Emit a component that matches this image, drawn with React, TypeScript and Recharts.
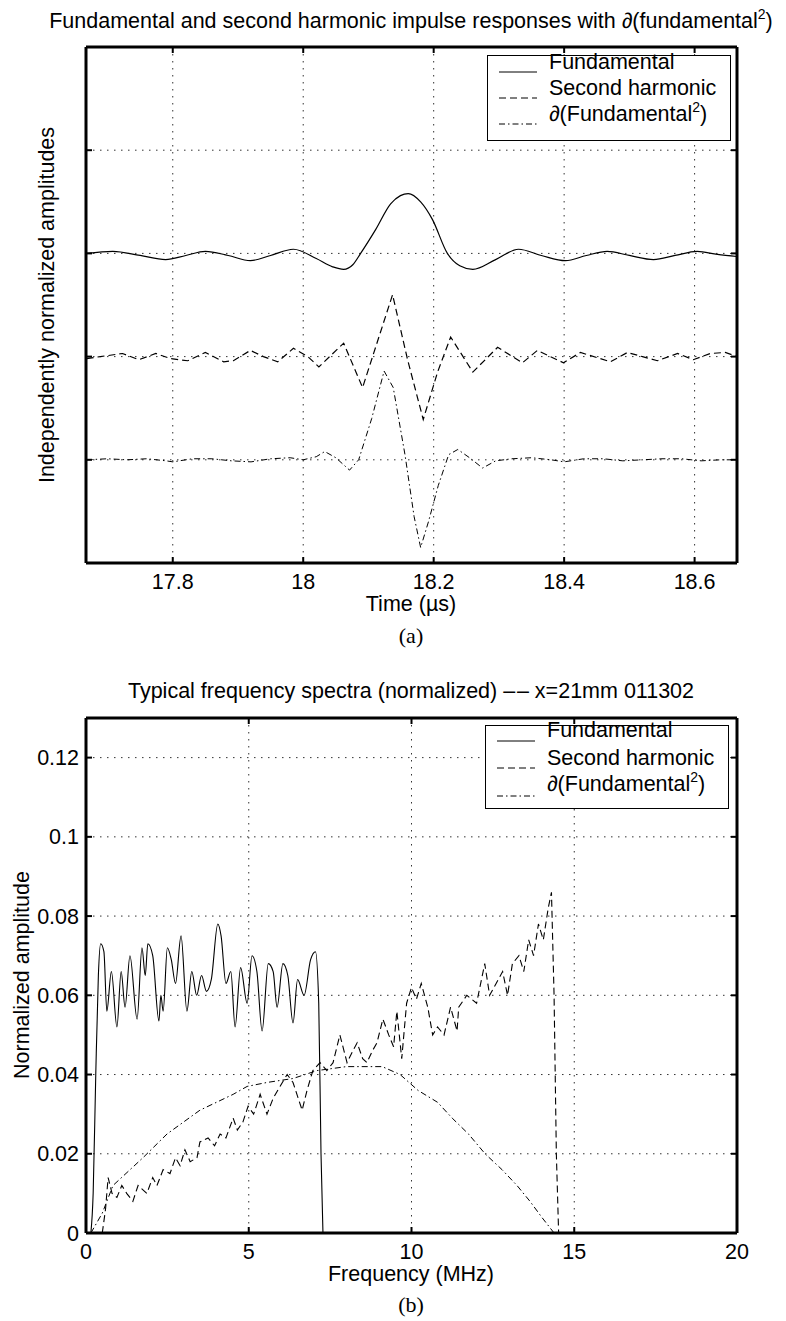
import React from 'react';
import { LineChart, Line, XAxis, YAxis, CartesianGrid } from 'recharts';

// ---- (a) impulse responses, time in microseconds ----
const timeTicks = [17.8, 18, 18.2, 18.4, 18.6];
const levelTicks = [1, 2, 3, 4];

// each trace is plotted on its own baseline level
const FUND_LEVEL = 3;
const HARM_LEVEL = 2;
const DERIV_LEVEL = 1;

const fundT = [17.668, 17.708, 17.75, 17.789, 17.82, 17.85, 17.885, 17.919, 17.95, 17.985, 18.02, 18.045, 18.062, 18.076, 18.088, 18.111, 18.134, 18.149, 18.161, 18.18, 18.198, 18.221, 18.24, 18.26, 18.295, 18.33, 18.365, 18.402, 18.434, 18.466, 18.5, 18.537, 18.57, 18.604, 18.635, 18.665];
const fundV = [0.0, 0.02, -0.02, -0.06, -0.02, 0.02, -0.02, -0.07, -0.02, 0.04, -0.05, -0.13, -0.155, -0.11, 0.0, 0.23, 0.48, 0.56, 0.58, 0.5, 0.33, 0.0, -0.12, -0.155, -0.06, 0.04, -0.02, -0.07, -0.02, 0.02, -0.02, -0.06, -0.02, 0.02, -0.01, -0.03];

const harmT = [17.668, 17.689, 17.723, 17.748, 17.774, 17.797, 17.823, 17.85, 17.878, 17.893, 17.919, 17.939, 17.961, 17.985, 18.007, 18.024, 18.062, 18.091, 18.137, 18.16, 18.184, 18.206, 18.226, 18.26, 18.298, 18.336, 18.359, 18.399, 18.425, 18.471, 18.497, 18.52, 18.543, 18.574, 18.598, 18.624, 18.647, 18.665];
const harmV = [-0.02, 0.0, 0.03, -0.03, 0.03, -0.02, -0.04, 0.04, -0.05, -0.04, 0.06, 0.0, -0.05, 0.08, 0.0, -0.1, 0.13, -0.3, 0.6, -0.03, -0.61, -0.15, 0.19, -0.15, 0.09, -0.06, 0.06, -0.06, 0.04, -0.05, 0.04, 0.0, -0.04, 0.03, -0.03, 0.03, 0.04, 0.0];

const derivT = [17.668, 17.7, 17.73, 17.76, 17.79, 17.8, 17.83, 17.86, 17.89, 17.92, 17.95, 17.98, 18.0, 18.02, 18.033, 18.05, 18.071, 18.085, 18.105, 18.124, 18.138, 18.156, 18.17, 18.18, 18.192, 18.207, 18.223, 18.237, 18.255, 18.275, 18.295, 18.32, 18.35, 18.38, 18.4, 18.43, 18.46, 18.49, 18.52, 18.55, 18.58, 18.61, 18.64, 18.665];
const derivV = [0.0, 0.01, 0.0, 0.01, -0.01, -0.02, 0.01, 0.01, -0.01, -0.02, 0.01, 0.02, 0.0, 0.03, 0.08, 0.02, -0.1, 0.0, 0.4, 0.86, 0.7, 0.05, -0.55, -0.85, -0.6, -0.25, 0.05, 0.1, 0.02, -0.08, -0.01, 0.01, 0.02, 0.0, -0.02, 0.01, 0.01, -0.01, 0.0, 0.01, 0.01, -0.01, 0.0, 0.0];

// ---- (b) spectra, frequency in MHz ----
const freqTicks = [0, 5, 10, 15, 20];
const ampTicks = [0, 0.02, 0.04, 0.06, 0.08, 0.1, 0.12];

const fundF = [0.15, 0.22, 0.3, 0.38, 0.45, 0.55, 0.64, 0.78, 0.95, 1.08, 1.2, 1.35, 1.57, 1.72, 1.82, 1.9, 2.05, 2.24, 2.3, 2.37, 2.5, 2.62, 2.75, 2.92, 3.1, 3.25, 3.4, 3.55, 3.7, 3.85, 4.05, 4.15, 4.3, 4.45, 4.58, 4.75, 4.95, 5.1, 5.25, 5.41, 5.6, 5.75, 5.87, 6.05, 6.2, 6.36, 6.5, 6.7, 6.9, 7.05, 7.15, 7.22, 7.28];
const fundA = [0, 0.01, 0.04, 0.065, 0.073, 0.071, 0.056, 0.066, 0.052, 0.066, 0.057, 0.07, 0.054, 0.072, 0.065, 0.073, 0.07, 0.0535, 0.06, 0.056, 0.072, 0.069, 0.063, 0.075, 0.056, 0.066, 0.06, 0.065, 0.061, 0.064, 0.078, 0.075, 0.063, 0.066, 0.052, 0.067, 0.058, 0.07, 0.066, 0.051, 0.068, 0.066, 0.057, 0.068, 0.065, 0.053, 0.064, 0.06, 0.069, 0.071, 0.058, 0.02, 0];

const harmF = [0.5, 0.6, 0.68, 0.8, 0.95, 1.1, 1.25, 1.44, 1.6, 1.87, 2.05, 2.18, 2.37, 2.58, 2.75, 2.89, 3.04, 3.2, 3.41, 3.5, 3.75, 3.95, 4.12, 4.3, 4.52, 4.65, 4.82, 4.98, 5.15, 5.35, 5.56, 5.75, 5.96, 6.18, 6.36, 6.64, 6.79, 6.97, 7.19, 7.4, 7.59, 7.8, 8.02, 8.2, 8.33, 8.5, 8.63, 8.8, 8.94, 9.12, 9.3, 9.45, 9.55, 9.7, 9.85, 10.0, 10.15, 10.3, 10.5, 10.65, 10.8, 11.0, 11.2, 11.4, 11.45, 11.7, 12.0, 12.1, 12.25, 12.4, 12.6, 12.8, 12.95, 13.1, 13.3, 13.45, 13.6, 13.75, 13.9, 14.05, 14.2, 14.3, 14.38, 14.45, 14.52];
const harmA = [0, 0.006, 0.014, 0.01, 0.009, 0.012, 0.01, 0.008, 0.012, 0.01, 0.014, 0.012, 0.016, 0.015, 0.019, 0.017, 0.021, 0.018, 0.019, 0.023, 0.024, 0.022, 0.025, 0.024, 0.029, 0.026, 0.028, 0.032, 0.03, 0.035, 0.03, 0.034, 0.037, 0.04, 0.038, 0.031, 0.036, 0.041, 0.043, 0.041, 0.043, 0.05, 0.043, 0.046, 0.048, 0.044, 0.043, 0.046, 0.048, 0.054, 0.05, 0.047, 0.056, 0.044, 0.058, 0.062, 0.059, 0.063, 0.057, 0.05, 0.052, 0.05, 0.057, 0.051, 0.057, 0.06, 0.058, 0.062, 0.068, 0.06, 0.063, 0.066, 0.06, 0.068, 0.07, 0.066, 0.074, 0.07, 0.078, 0.074, 0.082, 0.086, 0.06, 0.02, 0];

const derivF = [0.15, 0.5, 0.83, 1.75, 2.49, 3.5, 4.52, 4.95, 5.56, 6.36, 7.1, 8.0, 9.1, 9.65, 10.2, 10.8, 11.25, 11.75, 12.26, 12.78, 13.24, 13.64, 14.0, 14.38];
const derivA = [0, 0.005, 0.012, 0.019, 0.025, 0.031, 0.035, 0.037, 0.038, 0.039, 0.041, 0.042, 0.042, 0.04, 0.036, 0.033, 0.029, 0.025, 0.02, 0.016, 0.012, 0.008, 0.004, 0];

const FONT = '"Liberation Sans", Arial, Helvetica, sans-serif';
const SERIF = '"Liberation Serif", "Times New Roman", serif';
const FS = 21.5;

const DASHED = '7 4';
const DASHDOT = '6 3 1.5 3';
const GRID_DASH = '1.5 5.5';

const pairs = (xs: number[], ys: number[], offset = 0) => xs.map((x, i) => ({ x, y: ys[i] + offset }));

const fundData = pairs(fundT, fundV, FUND_LEVEL);
const harmData = pairs(harmT, harmV, HARM_LEVEL);
const derivData = pairs(derivT, derivV, DERIV_LEVEL);

const specFund = pairs(fundF, fundA);
const specHarm = pairs(harmF, harmA);
const specDeriv = pairs(derivF, derivA);

const axisLine = { stroke: '#000', strokeWidth: 3 };
const tickLine = { stroke: '#000', strokeWidth: 2 };
const tickText = { fontSize: FS, fill: '#000', fontFamily: FONT };
const noLabel = () => '';

// axis strip sizes; margins below are reduced by these so the plot box lands where it should
const XH = 30;
const YW = 40;
const MIRROR = 10;

function Label({ x, y, children, rotate, serif }: { x: number; y: number; children: React.ReactNode; rotate?: boolean; serif?: boolean }) {
  return (
    <div
      style={{
        position: 'absolute',
        left: x,
        top: y,
        transform: `translate(-50%, -50%)${rotate ? ' rotate(-90deg)' : ''}`,
        whiteSpace: 'nowrap',
        fontFamily: serif ? SERIF : FONT,
        fontSize: serif ? 22 : FS,
        lineHeight: 1,
        color: '#000',
      }}
    >
      {children}
    </div>
  );
}

const legendRows = [
  { name: 'Fundamental', dash: undefined as string | undefined },
  { name: 'Second harmonic', dash: DASHED },
  { name: 'deriv', dash: DASHDOT },
];

function LegendBox({ left, top, height, textY, lineY }: { left: number; top: number; height: number; textY: number[]; lineY: number[] }) {
  return (
    <div style={{ position: 'absolute', left, top, width: 244, height, border: '1px solid #000', background: '#fff', boxSizing: 'border-box', zIndex: 2 }}>
      <svg width={244} height={height} style={{ position: 'absolute', left: -1, top: -1, overflow: 'visible' }}>
        {legendRows.map((r, i) => (
          <line key={r.name} x1={12} x2={50} y1={lineY[i]} y2={lineY[i]} stroke="#000" strokeWidth={1} strokeDasharray={r.dash} />
        ))}
      </svg>
      {legendRows.map((r, i) => (
        <div key={r.name} style={{ position: 'absolute', left: 61, top: textY[i] - 1, transform: 'translateY(-50%)', fontFamily: FONT, fontSize: FS, lineHeight: 1, whiteSpace: 'nowrap' }}>
          {i === 2 ? (
            <span>
              ∂(Fundamental<sup style={{ fontSize: 14, verticalAlign: 0, position: 'relative', top: -9 }}>2</sup>)
            </span>
          ) : (
            r.name
          )}
        </div>
      ))}
    </div>
  );
}

export default function App() {
  return (
    <div style={{ position: 'absolute', left: 0, top: 0, width: 786, height: 1321, background: '#fff', overflow: 'hidden' }}>
      {/* (a) */}
      <div style={{ position: 'absolute', left: 0, top: 0 }}>
        <LineChart width={786} height={650} margin={{ top: 47 - MIRROR, right: 49 - MIRROR, bottom: 87 - XH, left: 86 - YW }}>
          <CartesianGrid stroke="#333" strokeDasharray={GRID_DASH} />
          <XAxis dataKey="x" type="number" domain={[17.667, 18.665]} ticks={timeTicks} allowDataOverflow height={XH}
            axisLine={axisLine} tickLine={tickLine} tickSize={-6} tickMargin={17} tick={tickText} />
          <XAxis xAxisId="top" orientation="top" dataKey="x" type="number" domain={[17.667, 18.665]} ticks={timeTicks} allowDataOverflow height={MIRROR}
            axisLine={axisLine} tickLine={tickLine} tickSize={-6} tickFormatter={noLabel} />
          <YAxis type="number" domain={[0, 5]} ticks={levelTicks} allowDataOverflow width={YW}
            axisLine={axisLine} tickLine={tickLine} tickSize={-6} tickFormatter={noLabel} />
          <YAxis yAxisId="right" orientation="right" type="number" domain={[0, 5]} ticks={levelTicks} allowDataOverflow width={MIRROR}
            axisLine={axisLine} tickLine={tickLine} tickSize={-6} tickFormatter={noLabel} />
          <Line data={fundData} dataKey="y" type="monotone" stroke="#000" strokeWidth={1.2} dot={false} isAnimationActive={false} />
          <Line data={harmData} dataKey="y" type="linear" stroke="#000" strokeWidth={1.2} strokeDasharray={DASHED} dot={false} isAnimationActive={false} />
          <Line data={derivData} dataKey="y" type="linear" stroke="#000" strokeWidth={1} strokeDasharray={DASHDOT} dot={false} isAnimationActive={false} />
        </LineChart>
      </div>

      {/* (b) */}
      <div style={{ position: 'absolute', left: 0, top: 650 }}>
        <LineChart width={786} height={671} margin={{ top: 68 - MIRROR, right: 49 - MIRROR, bottom: 88 - XH, left: 86 - YW }}>
          <CartesianGrid stroke="#333" strokeDasharray={GRID_DASH} />
          <XAxis dataKey="x" type="number" domain={[0, 20]} ticks={freqTicks} allowDataOverflow height={XH}
            axisLine={axisLine} tickLine={tickLine} tickSize={-6} tickMargin={17} tick={tickText} />
          <XAxis xAxisId="top" orientation="top" dataKey="x" type="number" domain={[0, 20]} ticks={freqTicks} allowDataOverflow height={MIRROR}
            axisLine={axisLine} tickLine={tickLine} tickSize={-6} tickFormatter={noLabel} />
          <YAxis type="number" domain={[0, 0.13]} ticks={ampTicks} allowDataOverflow width={YW}
            axisLine={axisLine} tickLine={tickLine} tickSize={-6} tickMargin={13} tick={tickText} />
          <YAxis yAxisId="right" orientation="right" type="number" domain={[0, 0.13]} ticks={ampTicks} allowDataOverflow width={MIRROR}
            axisLine={axisLine} tickLine={tickLine} tickSize={-6} tickFormatter={noLabel} />
          <Line data={specFund} dataKey="y" type="monotone" stroke="#000" strokeWidth={1.1} dot={false} isAnimationActive={false} />
          <Line data={specHarm} dataKey="y" type="linear" stroke="#000" strokeWidth={1.1} strokeDasharray={DASHED} dot={false} isAnimationActive={false} />
          <Line data={specDeriv} dataKey="y" type="linear" stroke="#000" strokeWidth={1} strokeDasharray={DASHDOT} dot={false} isAnimationActive={false} />
        </LineChart>
      </div>

      <Label x={411} y={22}>
        Fundamental and second harmonic impulse responses with ∂(fundamental
        <sup style={{ fontSize: 14, verticalAlign: 0, position: 'relative', top: -9 }}>2</sup>)
      </Label>
      <Label x={48} y={305} rotate>Independently normalized amplitudes</Label>
      <Label x={411} y={605}>Time (µs)</Label>
      <Label x={411} y={636} serif>(a)</Label>

      <Label x={411} y={692}>Typical frequency spectra (normalized) –{'\u200A'}– x=21mm 011302</Label>
      <Label x={23} y={975} rotate>Normalized amplitude</Label>
      <Label x={411} y={1275}>Frequency (MHz)</Label>
      <Label x={411} y={1305} serif>(b)</Label>

      <LegendBox left={487} top={55} height={86} textY={[8, 34, 60]} lineY={[17, 43, 69]} />
      <LegendBox left={485} top={725} height={84} textY={[6, 34, 60]} lineY={[16, 43, 71]} />
    </div>
  );
}
